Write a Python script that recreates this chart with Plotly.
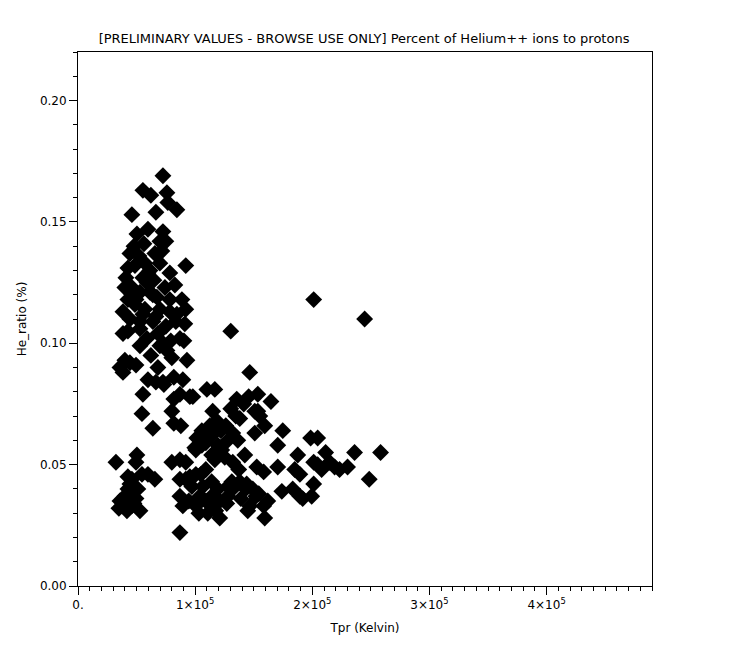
import plotly.graph_objects as go

# Proton temperature (thousands of Kelvin) and He++/p ratio
tpr_k = [
    72.5, 55.4, 75.9, 62.2, 84.4, 76.7, 46.0, 66.5, 59.7, 72.5, 50.3, 69.9, 75.0, 56.3,
    44.3, 65.6, 52.0, 92.0, 48.6, 69.9, 42.6, 61.4, 78.4, 40.0, 46.0, 58.8, 74.2, 82.7,
    52.9, 67.3, 42.6, 88.7, 48.6, 78.4, 57.1, 69.9, 92.0, 44.3, 83.5, 63.9, 52.9, 75.0,
    91.2, 42.6, 38.4, 68.2, 130.4, 58.8, 87.0, 69.9, 52.9, 75.9, 40.0, 44.3, 93.0, 80.1,
    49.5, 38.4, 146.6, 81.8, 89.5, 59.7, 66.5, 72.5, 110.0, 116.8, 87.0, 55.4, 95.5, 153.5,
    145.7, 81.8, 135.5, 80.1, 54.6, 115.0, 130.4, 153.5, 150.9, 81.8, 87.8, 63.9, 118.5, 138.1,
    159.4, 105.7, 121.9, 132.1, 174.8, 114.1, 101.4, 150.9, 198.6, 204.6, 127.9, 109.1, 119.3, 136.4,
    170.5, 100.6, 114.1, 142.4, 125.3, 187.6, 211.4, 236.1, 258.3, 50.3, 116.8, 87.0, 80.1, 92.0,
    32.4, 49.5, 132.1, 152.6, 201.2, 204.6, 214.8, 219.1, 230.1, 208.0, 223.3, 185.0, 170.5, 109.1,
    54.6, 59.7, 100.6, 46.0, 65.6, 87.0, 92.0, 158.5, 189.4, 248.6, 114.1, 138.1, 44.3, 144.0,
    201.2, 127.9, 97.2, 106.6, 51.1, 42.6, 119.3, 132.1, 143.2, 149.2, 183.3, 174.0, 44.3, 87.0,
    104.0, 114.1, 154.3, 189.4, 199.5, 40.0, 49.5, 127.9, 139.0, 151.8, 35.8, 94.6, 109.1, 121.0,
    162.0, 191.8, 47.8, 100.6, 89.5, 115.0, 146.6, 158.5, 37.5, 34.9, 52.9, 41.8, 103.2, 110.8,
    144.9, 121.0, 159.4, 87.0, 46.0, 201.2, 244.7,
    55.4, 71.6, 64.8, 55.4, 78.4, 38.4, 35.8, 49.5, 63.9, 59.7, 90.4, 98.0, 40.9, 57.1,
    61.4, 66.5, 72.5, 46.0, 52.9, 47.8, 84.4, 79.2, 68.2, 62.2, 73.3, 95.5, 105.7, 126.2,
    134.7, 141.5, 137.2, 122.7, 112.5, 104.9, 99.7, 131.3, 127.0, 117.6, 155.2, 164.7, 47.8, 42.6,
]
he_ratio = [
    0.169, 0.163, 0.162, 0.161, 0.155, 0.158, 0.153, 0.154, 0.147, 0.146, 0.145, 0.142, 0.142, 0.141,
    0.137, 0.137, 0.136, 0.132, 0.132, 0.133, 0.131, 0.130, 0.129, 0.123, 0.123, 0.125, 0.123, 0.124,
    0.121, 0.119, 0.118, 0.118, 0.116, 0.118, 0.114, 0.114, 0.114, 0.110, 0.109, 0.109, 0.109, 0.107,
    0.108, 0.105, 0.104, 0.104, 0.105, 0.102, 0.102, 0.099, 0.099, 0.097, 0.093, 0.092, 0.093, 0.094,
    0.091, 0.088, 0.088, 0.086, 0.085, 0.085, 0.084, 0.084, 0.081, 0.081, 0.079, 0.079, 0.078, 0.079,
    0.078, 0.077, 0.077, 0.072, 0.071, 0.072, 0.073, 0.072, 0.072, 0.067, 0.066, 0.065, 0.068, 0.069,
    0.066, 0.064, 0.064, 0.063, 0.064, 0.062, 0.061, 0.063, 0.061, 0.061, 0.060, 0.059, 0.058, 0.060,
    0.058, 0.056, 0.054, 0.054, 0.053, 0.054, 0.055, 0.055, 0.055, 0.054, 0.052, 0.052, 0.051, 0.051,
    0.051, 0.051, 0.051, 0.049, 0.051, 0.050, 0.051, 0.049, 0.049, 0.048, 0.048, 0.048, 0.049, 0.048,
    0.046, 0.046, 0.046, 0.044, 0.044, 0.044, 0.044, 0.047, 0.046, 0.044, 0.043, 0.043, 0.042, 0.042,
    0.042, 0.041, 0.041, 0.041, 0.040, 0.040, 0.040, 0.040, 0.040, 0.040, 0.040, 0.039, 0.037, 0.037,
    0.037, 0.037, 0.038, 0.037, 0.037, 0.037, 0.036, 0.037, 0.036, 0.037, 0.035, 0.035, 0.035, 0.035,
    0.035, 0.036, 0.034, 0.033, 0.033, 0.034, 0.033, 0.033, 0.033, 0.032, 0.031, 0.031, 0.030, 0.030,
    0.031, 0.028, 0.028, 0.022, 0.033, 0.118, 0.110,
    0.127, 0.138, 0.126, 0.112, 0.113, 0.113, 0.090, 0.118, 0.120, 0.129, 0.101, 0.078, 0.127, 0.133,
    0.121, 0.111, 0.100, 0.120, 0.106, 0.140, 0.112, 0.101, 0.090, 0.095, 0.083, 0.045, 0.058, 0.066,
    0.070, 0.075, 0.048, 0.056, 0.066, 0.046, 0.057, 0.043, 0.034, 0.031, 0.070, 0.076, 0.040, 0.045,
]

x_tick_vals = [0, 100000, 200000, 300000, 400000]
x_tick_text = ["0.", "1×10<sup>5</sup>", "2×10<sup>5</sup>", "3×10<sup>5</sup>", "4×10<sup>5</sup>"]
y_tick_vals = [0.0, 0.05, 0.10, 0.15, 0.20]

tpr = [v * 1000 for v in tpr_k]

fig = go.Figure(go.Scatter(
    x=tpr, y=he_ratio, mode="markers",
    marker=dict(symbol="diamond", size=13, color="black", line=dict(width=0)),
    hoverinfo="x+y",
))

font = "DejaVu Sans, Verdana, sans-serif"
axis_common = dict(
    showline=True, linecolor="black", linewidth=1, mirror=True,
    ticks="outside", ticklen=8, tickcolor="black", tickwidth=1,
    showgrid=False, zeroline=False, automargin=False,
    tickfont=dict(family=font, size=12, color="black"),
)

fig.update_layout(
    width=730, height=651,
    margin=dict(l=70, r=86, t=44, b=73),
    paper_bgcolor="white", plot_bgcolor="white",
    showlegend=False,
    title=dict(text="[PRELIMINARY VALUES - BROWSE USE ONLY] Percent of Helium++ ions to protons",
               x=0.4877, xanchor="center", y=0.953, yanchor="middle",
               font=dict(family=font, size=13, color="black")),
    xaxis=dict(range=[0, 490000], tickvals=x_tick_vals, ticktext=x_tick_text,
               minor=dict(dtick=10000, ticklen=4, ticks="outside", tickcolor="black", showgrid=False),
               title=dict(text="Tpr (Kelvin)", font=dict(family=font, size=12, color="black"), standoff=12),
               **axis_common),
    yaxis=dict(range=[0, 0.22], tickvals=y_tick_vals, tickformat=".2f",
               minor=dict(dtick=0.01, ticklen=4, ticks="outside", tickcolor="black", showgrid=False),
               title=dict(text="He_ratio (%)", font=dict(family=font, size=12, color="black"), standoff=10),
               **axis_common),
)

fig.write_html("out.html")
